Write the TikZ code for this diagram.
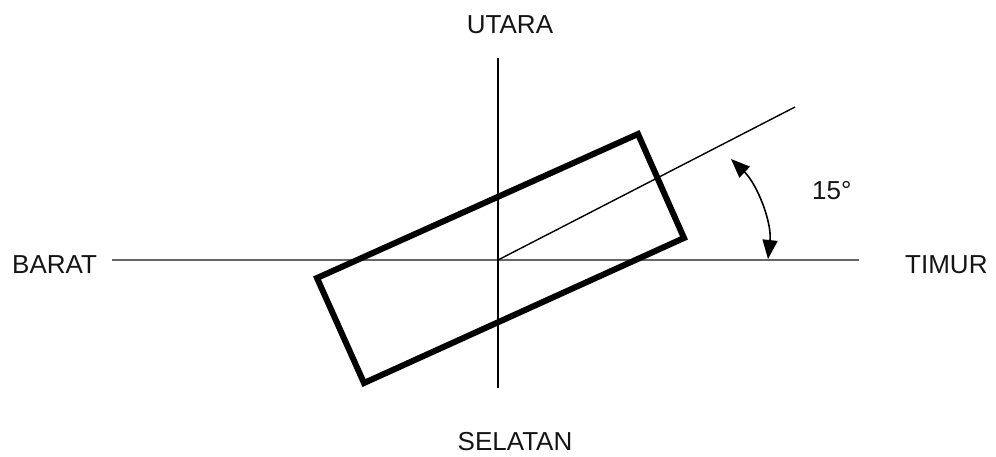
\documentclass[tikz,border=0pt]{standalone}
\usepackage{fontspec}
\setmainfont{Liberation Sans}
\usetikzlibrary{arrows.meta}
\begin{document}
\begin{tikzpicture}[x=1pt,y=-1pt,
  lbl/.style={inner sep=0pt,font=\fontsize{26}{30}\selectfont,text=black!92},
  axis/.style={line width=2pt},
  box/.style={line width=6pt,line join=miter},
  ray/.style={line width=1.4pt},
  angarrow/.style={line width=1.6pt,{Triangle[length=19pt,width=15pt]}-{Triangle[length=19pt,width=15pt]}}]
\useasboundingbox (0,0) rectangle (996,456);
% axes
\coordinate (N) at (498,58);
\coordinate (S) at (498,388);
\coordinate (W) at (112,260);
\coordinate (E) at (859,260);
\coordinate (O) at (498,260);
\coordinate (R) at (795,107);
\draw[axis,black!60] (W) -- (E);
\draw[axis,black] (N) -- (S);
% ray
\draw[ray] (O) -- (R);
% rectangle
\coordinate (TL) at (317,278);
\coordinate (TR) at (638,134);
\coordinate (BR) at (684,238);
\coordinate (BL) at (364,383);
\draw[box] (TL) -- (TR) -- (BR) -- (BL) -- cycle;
% angle arrow
\coordinate (A1) at (731,159);
\coordinate (A2) at (768,259);
\draw[angarrow] (A1) .. controls (757,184) and (772,222) .. (A2);
% labels
\node[lbl,anchor=base] (ut) at (510,33) {UTARA};
\node[lbl,anchor=base] (se) at (515,450) {SELATAN};
\node[lbl,anchor=base west] (ba) at (12,273) {BARAT};
\node[lbl,anchor=base west] (ti) at (905,273) {TIMUR};
\node[lbl,anchor=base west] (an) at (812,199) {15°};
\end{tikzpicture}
\end{document}
